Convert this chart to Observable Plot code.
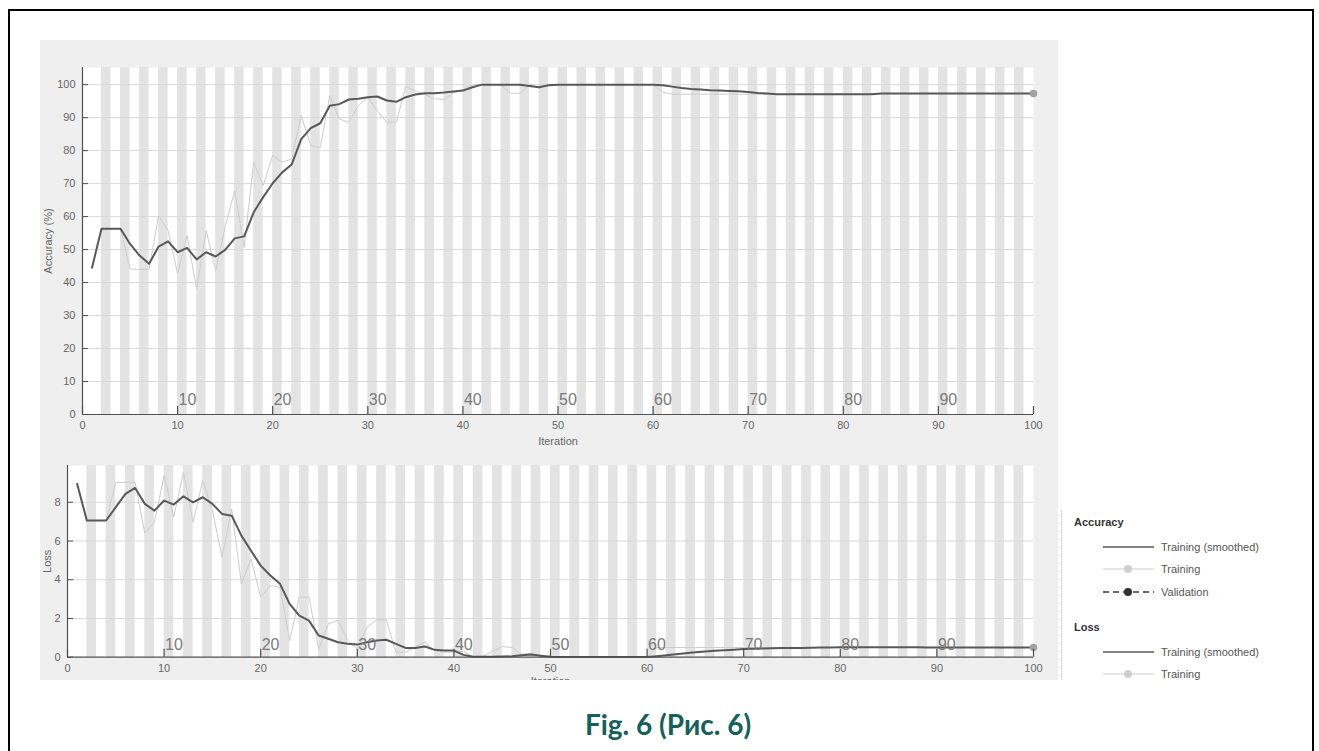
<!DOCTYPE html>
<html><head><meta charset="utf-8">
<script src="https://cdn.jsdelivr.net/npm/d3@7"></script>
<script src="https://cdn.jsdelivr.net/npm/@observablehq/plot@0.6"></script>
<style>
body{margin:0;background:#fff;font-family:"Liberation Sans",Arial,sans-serif;}
#page{position:relative;width:1319px;height:751px;overflow:hidden;background:#fff;}
#border{position:absolute;left:8px;top:9px;width:1306px;height:800px;border:2px solid #000;box-sizing:border-box;}
#panel{position:absolute;left:40px;top:40px;width:1018px;height:640px;background:#efefef;}
#acc{position:absolute;left:0;top:0;}
#loss{position:absolute;left:0;top:455px;}
#legend{position:absolute;left:1058px;top:500px;width:250px;height:180px;overflow:hidden;font-size:11px;color:#555;}
#legend .sep{position:absolute;left:3px;top:10px;width:0;height:170px;border-left:1px dotted #cfcfcf;}
#legend .title{position:absolute;left:16px;font-weight:bold;color:#333;line-height:13px;}
#legend .row{position:absolute;left:44px;height:14px;line-height:14px;white-space:nowrap;}
#legend .row svg{position:absolute;left:0;top:0;}
#legend .row span{position:absolute;left:59px;top:0;}
#caption{position:absolute;left:418px;width:500px;top:707px;text-align:center;font-family:Lato,"Open Sans",sans-serif;font-weight:bold;font-size:28px;line-height:34px;color:#14605a;}
</style>
</head><body>
<div id="page">
  <div id="border"></div>
  <div id="panel"></div>
  <div id="acc"></div>
  <div id="loss"></div>
  <div id="legend"></div>
  <div id="caption">Fig. 6 (Рис. 6)</div>
</div>
<script>
// ---- data ----
const iterations = [
 1,2,3,4,5,6,7,8,9,10,11,12,13,14,15,16,17,18,19,20,
 21,22,23,24,25,26,27,28,29,30,31,32,33,34,35,36,37,38,39,40,
 41,42,43,44,45,46,47,48,49,50,51,52,53,54,55,56,57,58,59,60,
 61,62,63,64,65,66,67,68,69,70,71,72,73,74,75,76,77,78,79,80,
 81,82,83,84,85,86,87,88,89,90,91,92,93,94,95,96,97,98,99,100];

const accSmoothed = [
 44.5,56.3,56.3,56.3,51.7,48.2,45.7,50.9,52.5,49.2,
 50.5,47.0,49.2,47.9,49.9,53.4,54.0,61.3,65.9,70.1,
 73.4,75.8,83.5,86.8,88.3,93.6,94.1,95.5,95.7,96.2,
 96.4,95.2,94.8,96.2,97.0,97.4,97.4,97.6,97.9,98.2,
 99.2,100,100,100,100,100,99.6,99.2,99.8,100,
 100,100,100,100,100,100,100,100,100,100,
 99.8,99.4,99.0,98.7,98.5,98.3,98.2,98.1,98.0,97.8,
 97.5,97.3,97.1,97.1,97.1,97.1,97.1,97.1,97.1,97.1,
 97.1,97.1,97.1,97.3,97.3,97.3,97.3,97.3,97.3,97.3,
 97.3,97.3,97.3,97.3,97.3,97.3,97.3,97.3,97.3,97.3];

const accTraining = [
 44.5,56.3,56.3,56.3,44.1,44.0,44.0,60.3,55.8,42.6,
 54.2,38.1,55.8,43.6,56.8,67.9,50.7,76.5,69.4,78.5,
 76.5,77.5,90.6,81.5,80.9,96.7,89.6,88.6,93.6,96.2,
 92.0,88.6,88.6,99.5,98.0,97.0,95.7,95.5,97.5,98.5,
 100,100,100,100,97.4,97.4,100,99.0,100,100,
 100,100,100,100,100,100,100,100,100,100,
 97.8,97.1,97.1,97.1,97.1,97.1,97.1,97.1,97.1,97.1,
 97.1,97.1,97.1,97.1,97.1,97.1,97.1,97.1,97.1,97.1,
 97.1,97.1,97.1,97.3,97.3,97.3,97.3,97.3,97.3,97.3,
 97.3,97.3,97.3,97.3,97.3,97.3,97.3,97.3,97.3,97.3];

const lossSmoothed = [
 8.95,7.06,7.06,7.06,7.75,8.43,8.74,7.92,7.57,8.09,
 7.88,8.31,8.00,8.26,7.92,7.40,7.31,6.28,5.50,4.73,
 4.22,3.79,2.75,2.15,1.89,1.12,0.95,0.77,0.69,0.65,
 0.77,0.86,0.90,0.69,0.48,0.48,0.55,0.38,0.34,0.34,
 0.12,0.02,0.02,0.02,0.03,0.05,0.10,0.14,0.08,0.02,
 0.01,0.01,0.01,0.01,0.01,0.01,0.01,0.01,0.01,0.01,
 0.05,0.10,0.15,0.20,0.25,0.29,0.33,0.36,0.39,0.42,
 0.44,0.45,0.46,0.47,0.48,0.48,0.49,0.50,0.50,0.51,
 0.51,0.51,0.51,0.51,0.51,0.51,0.51,0.51,0.50,0.50,
 0.50,0.50,0.50,0.50,0.50,0.50,0.50,0.50,0.50,0.50];

const lossTraining = [
 8.95,7.06,7.06,7.06,9.03,9.03,9.03,6.40,6.97,9.38,
 7.23,9.55,6.97,9.12,7.57,5.16,7.66,3.79,5.08,3.10,
 3.70,3.60,0.86,3.10,3.10,0.43,1.72,1.90,0.86,0.43,
 1.55,1.93,1.93,0.26,0.26,0.52,0.77,0.34,0.26,0.26,
 0.30,0.00,0.05,0.30,0.55,0.50,0.15,0.20,0.05,0.00,
 0.00,0.00,0.00,0.00,0.00,0.00,0.00,0.00,0.00,0.00,
 0.50,0.50,0.50,0.50,0.50,0.50,0.50,0.50,0.50,0.50,
 0.50,0.50,0.50,0.50,0.50,0.50,0.50,0.50,0.50,0.50,
 0.50,0.50,0.50,0.50,0.50,0.50,0.50,0.50,0.50,0.50,
 0.50,0.50,0.50,0.50,0.50,0.50,0.50,0.50,0.50,0.50];

const xTicks = [0,10,20,30,40,50,60,70,80,90,100];
const epochTicks = [10,20,30,40,50,60,70,80,90];
const epochStripes = [2,4,6,8,10,12,14,16,18,20,22,24,26,28,30,32,34,36,38,40,42,44,46,48,
  50,52,54,56,58,60,62,64,66,68,70,72,74,76,78,80,82,84,86,88,90,92,94,96,98];
const accYTicks = [0,10,20,30,40,50,60,70,80,90,100];
const lossYTicks = [0,2,4,6,8];

// ---- styles ----
const C = {
  stripe: "#e3e3e3", grid: "#d9d9d9", axis: "#4f4f4f", smooth: "#585858",
  train: "#cdcdcd", tickText: "#666", epoch: "#7a7a7a", endDot: "#a3a3a3"
};
const font = "Liberation Sans, Arial, Helvetica, sans-serif";

function progressPlot({width, height, mL, mR, mT, mB, yDomain, yTicks, yLabel, smooth, train, yLabelOffset, xLabelOffset, epochDy}) {
  const rows = iterations.map((it, i) => ({it, s: smooth[i], t: train[i]}));
  const frameW = width - mL - mR, frameH = height - mT - mB;
  const last = rows.slice(-1);
  return Plot.plot({
    width, height, marginLeft: mL, marginRight: mR, marginTop: mT, marginBottom: mB,
    style: {background: "transparent", fontFamily: font, fontSize: "11px", color: "#555"},
    x: {domain: [0, 100]},
    y: {domain: yDomain},
    marks: [
      Plot.frame({fill: "white", stroke: "none"}),
      Plot.barX(epochStripes, {x1: d => d, x2: d => d + 1, fill: C.stripe}),
      Plot.ruleY(yTicks.filter(d => d > 0), {y: d => d, stroke: C.grid, strokeWidth: 1}),
      Plot.line(rows, {x: "it", y: "t", stroke: C.train, strokeWidth: 1}),
      Plot.line(rows, {x: "it", y: "s", stroke: C.smooth, strokeWidth: 2}),
      Plot.dot(last, {x: "it", y: "t", r: 3, fill: C.endDot, stroke: C.endDot}),
      Plot.ruleY([yDomain[0]], {stroke: C.axis, strokeWidth: 1.2}),
      Plot.ruleX([0], {stroke: C.axis, strokeWidth: 1.2}),
      Plot.tickY(yTicks, {y: d => d, stroke: C.axis, insetRight: frameW - 6}),
      Plot.tickX(xTicks, {x: d => d, stroke: C.axis, insetTop: frameH - 8, strokeWidth: 1.2}),
      Plot.text(epochTicks, {x: d => d, y: () => yDomain[0], text: d => String(d), textAnchor: "start",
        lineAnchor: "bottom", dx: 1, dy: epochDy, fontSize: 16, fill: C.epoch}),
      Plot.axisY(yTicks, {tickSize: 0, tickPadding: 7, fill: C.tickText, label: yLabel, labelAnchor: "center",
        labelArrow: "none", labelOffset: yLabelOffset}),
      Plot.axisX(xTicks, {tickSize: 0, tickPadding: 7, fill: C.tickText, label: "Iteration", labelAnchor: "center",
        labelArrow: "none", labelOffset: xLabelOffset})
    ]
  });
}

document.getElementById("acc").append(progressPlot({
  width: 1060, height: 455, mL: 82, mR: 27, mT: 67, mB: 41,
  yDomain: [0, 105.2], yTicks: accYTicks, yLabel: "Accuracy (%)",
  smooth: accSmoothed, train: accTraining, yLabelOffset: 38, xLabelOffset: 30, epochDy: -10
}));

document.getElementById("loss").append(progressPlot({
  width: 1060, height: 225, mL: 67, mR: 27, mT: 10, mB: 23.3,
  yDomain: [0, 9.9], yTicks: lossYTicks, yLabel: "Loss",
  smooth: lossSmoothed, train: lossTraining, yLabelOffset: 24, xLabelOffset: 28, epochDy: -7
}));

// ---- legend ----
const legendGroups = [
  {title: "Accuracy", top: 16, items: [
    {label: "Training (smoothed)", stroke: C.smooth, width: 1.6, dash: null, dot: null},
    {label: "Training", stroke: C.train, width: 1.2, dash: null, dot: "#cfcfcf"},
    {label: "Validation", stroke: "#3a3a3a", width: 1.6, dash: "6,4", dot: "#333"}
  ]},
  {title: "Loss", top: 121, items: [
    {label: "Training (smoothed)", stroke: C.smooth, width: 1.6, dash: null, dot: null},
    {label: "Training", stroke: C.train, width: 1.2, dash: null, dot: "#cfcfcf"}
  ]}
];
const legend = document.getElementById("legend");
legend.innerHTML = '<div class="sep"></div>';
legendGroups.forEach(g => {
  const t = document.createElement("div");
  t.className = "title"; t.style.top = g.top + "px"; t.textContent = g.title;
  legend.append(t);
  g.items.forEach((it, j) => {
    const r = document.createElement("div");
    r.className = "row"; r.style.top = (g.top + 23.5 + j * 22.5) + "px";
    const ns = "http://www.w3.org/2000/svg";
    const svg = document.createElementNS(ns, "svg");
    svg.setAttribute("width", 54); svg.setAttribute("height", 14);
    const ln = document.createElementNS(ns, "line");
    ln.setAttribute("x1", 1); ln.setAttribute("x2", 52); ln.setAttribute("y1", 7); ln.setAttribute("y2", 7);
    ln.setAttribute("stroke", it.stroke); ln.setAttribute("stroke-width", it.width);
    if (it.dash) ln.setAttribute("stroke-dasharray", it.dash);
    svg.append(ln);
    if (it.dot) {
      const c = document.createElementNS(ns, "circle");
      c.setAttribute("cx", 26); c.setAttribute("cy", 7); c.setAttribute("r", 4); c.setAttribute("fill", it.dot);
      svg.append(c);
    }
    r.append(svg);
    const s = document.createElement("span"); s.textContent = it.label;
    r.append(s);
    legend.append(r);
  });
});
</script>
</body></html>
